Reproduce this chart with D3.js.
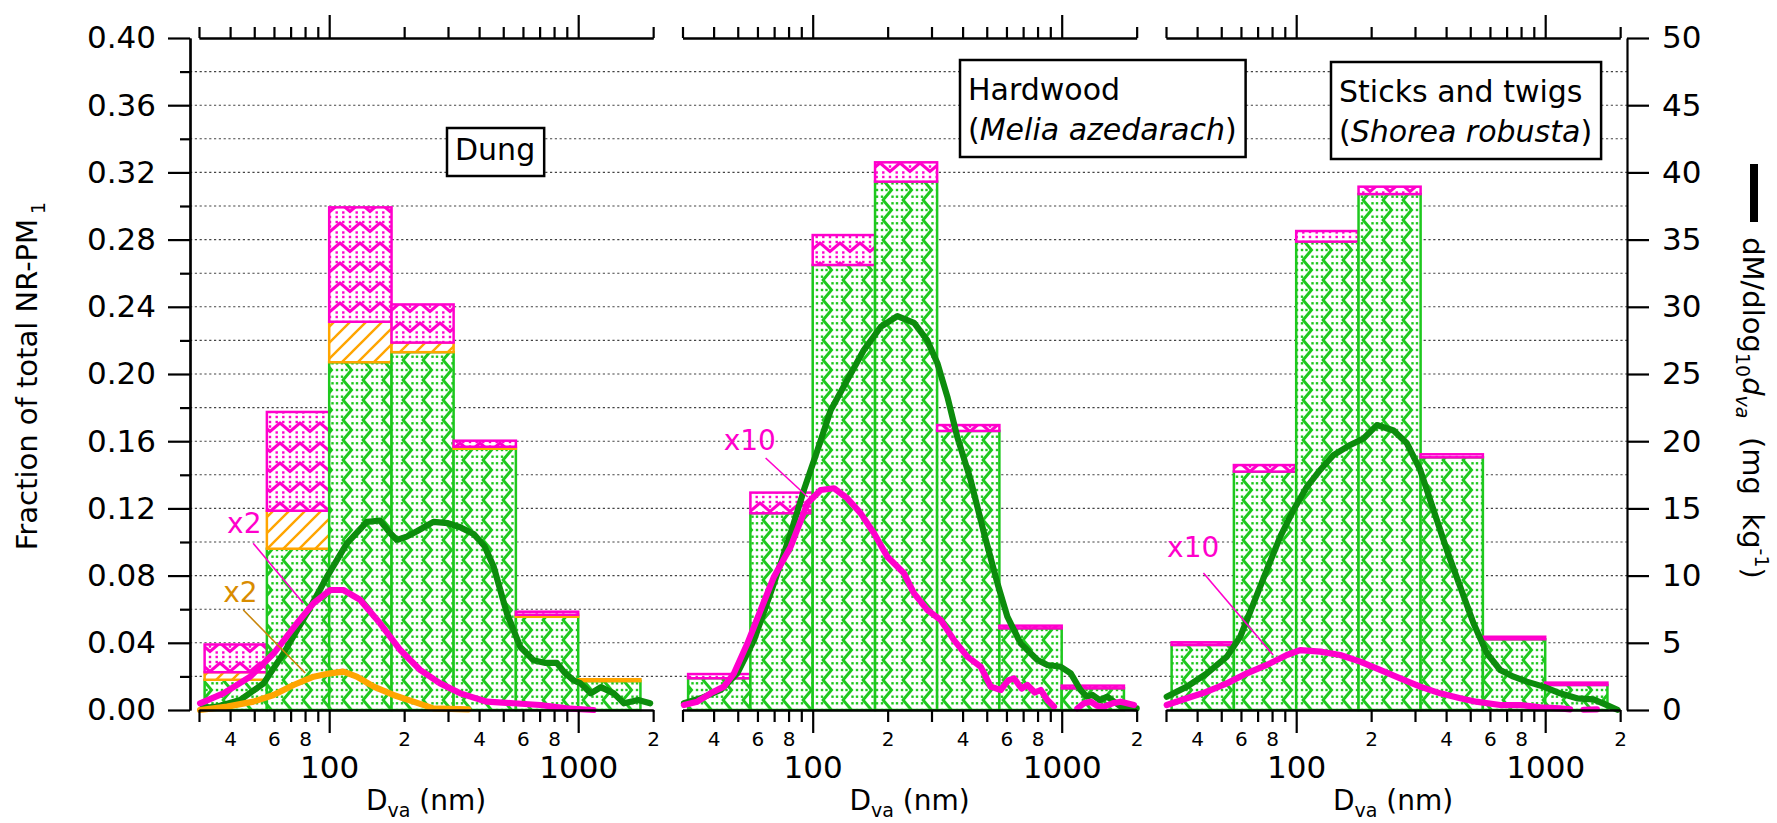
<!DOCTYPE html>
<html><head><meta charset="utf-8">
<script src="https://cdn.jsdelivr.net/npm/d3@7"></script>
<style>
body{margin:0;background:#fff;}
svg text{font-family:"DejaVu Sans",sans-serif;white-space:pre;}
</style></head><body>
<svg id="c" width="1777" height="823"></svg>
<script>
// ---------------- DATA ----------------
const panelNames = ["Dung", "Hardwood", "Sticks and twigs"];
const binEdges = [31.6, 56.2, 100, 178, 316, 562, 1000, 1778]; // nm
// stacked fractions of total NR-PM1 (green = organics, orange = ammonium, magenta = chloride)
const dungOrg  = [0.018, 0.096, 0.207, 0.213, 0.1555, 0.0555, 0.0172];
const dungNH4  = [0.0045, 0.0226, 0.0241, 0.0057, 0.0012, 0.0012, 0.0011];
const dungChl  = [0.0165, 0.0588, 0.0681, 0.0227, 0.0036, 0.0018, 0.0];
const hardOrg  = [0.0189, 0.1171, 0.2649, 0.3145, 0.1661, 0.0486, 0.0129];
const hardNH4  = [0, 0, 0, 0, 0, 0, 0];
const hardChl  = [0.0025, 0.0123, 0.0178, 0.0115, 0.0035, 0.0016, 0.0016];
const stickOrg = [0.0387, 0.1419, 0.2788, 0.3071, 0.1504, 0.0421, 0.0149];
const stickNH4 = [0, 0, 0, 0, 0, 0, 0];
const stickChl = [0.0016, 0.0039, 0.0063, 0.0044, 0.0018, 0.0015, 0.0014];

// dM/dlog10 dva curves, [Dva nm, mg/kg]
const dungTotal = [[31,0.15],[35.4,0.25],[43.9,0.74],[54.5,1.98],[65.5,4.2],[81.4,7.2],[97.9,9.9],[117.8,12.4],[141.7,14.0],[160,14.1],[175,13.2],[187,12.65],[205,12.9],[225,13.3],[262,14.0],[300,13.9],[336,13.6],[380,13.1],[420,12.2],[457,10.7],[517,7.2],[585,4.7],[661,3.7],[740,3.5],[821,3.5],[880,2.8],[958,2.2],[1019,2.0],[1123,1.24],[1234,1.7],[1390,1.24],[1526,0.5],[1741,0.74],[1945,0.5]];
const dungChlX2 = [[30.3,0.5],[37.6,1.24],[48.2,2.48],[59.8,4.2],[74.2,6.45],[86.5,7.94],[101,8.93],[114,8.93],[133,8.2],[160,6.45],[193,4.46],[232,2.98],[279,1.98],[336,1.24],[430,0.62],[550,0.5],[703,0.37],[900,0.12],[1152,0]];
const dungNH4X2 = [[30.3,0],[38.9,0.25],[49.6,0.62],[59.8,1.12],[71.9,1.86],[86.5,2.48],[101,2.73],[114,2.85],[129,2.48],[151,1.74],[181,1.12],[218,0.62],[262,0.12],[362,0.05]];
const hardTotal = [[30.4,0.5],[35.5,0.87],[42.7,1.49],[49.8,2.73],[58.1,5.2],[69.9,9.43],[81.6,13.15],[92.3,16.4],[104.4,19.3],[118.1,22.3],[137.7,24.55],[160.7,26.8],[187.5,28.5],[218.8,29.3],[255.3,28.8],[288.7,27.5],[316.8,25.8],[347.5,23.3],[381,20.3],[431,17.1],[487.6,13.15],[552,9.43],[605,6.94],[684,4.96],[799,3.72],[876,3.35],[991,3.22],[1087,2.73],[1190,1.49],[1260,1.0],[1330,1.12],[1420,0.74],[1526,0.99],[1726,0.25],[2000,0.12]];
const hardChlX10 = [[30.4,0.37],[34.4,0.62],[38.9,1.24],[44.0,1.74],[48.3,2.73],[54.7,4.96],[61.8,7.44],[69.9,9.92],[81.6,12.15],[95.2,15.38],[107.7,16.37],[121.8,16.5],[137.7,15.75],[155.9,14.63],[176.3,13.15],[199.5,11.4],[232.6,10.17],[255.3,8.68],[288.7,7.44],[326.6,6.7],[369.4,5.2],[417.9,3.97],[472.8,3.22],[518.7,1.74],[568.9,1.49],[610,2.2],[643.6,2.36],[690,1.6],[728,1.86],[780,1.3],[823.5,1.49],[876,0.74],[931,0.25],null,[1156,0.12],[1230,0.5],[1308,0.62],[1390,0.3],[1479,0.25],[1600,0.5],[1726,0.62],[1951,0.37]];
const stickTotal = [[30.2,0.99],[36.4,1.74],[43.8,2.73],[52.7,3.97],[59.6,5.45],[67.4,7.94],[76.2,10.42],[86.3,12.9],[97.5,14.88],[110.4,16.6],[124.8,17.86],[141.2,18.97],[164.8,19.72],[186.4,20.2],[210.9,21.2],[246,20.8],[278.4,19.84],[314.8,17.86],[356,14.88],[402.7,11.9],[455.7,9.17],[515.3,6.45],[583,4.22],[659.4,2.98],[746,2.48],[844,2.11],[984,1.74],[1148,1.24],[1340,0.87],[1563,0.79],[1770,0.37],[1950,0.02]];
const stickChlX10 = [[30.2,0.37],[36.4,0.87],[43.8,1.36],[52.7,1.98],[63.4,2.73],[76.2,3.35],[91.7,4.09],[103.8,4.46],[124.8,4.34],[150.2,4.09],[180.7,3.6],[217.4,2.98],[261.6,2.36],[314.8,1.74],[378.6,1.24],[455.7,0.87],[528.2,0.62],[659.4,0.37],[793.6,0.37],[955,0.2],[1148,0.12],[1259,0.05],null,[1425,0.02],[1613,0.05]];

// annotations: label position and pointer, in [nm, mg/kg]
const annotations = [
  {panel:0, text:"x2", color:"#ff00cc", lineColor:"#ff00cc", at:[38.9,13.2], from:[49.5,12.4], to:[78.6,7.96]},
  {panel:0, text:"x2", color:"#d98c00", lineColor:"#c8860a", at:[37.5,8.04], from:[45.2,7.44], to:[80.1,2.75]},
  {panel:1, text:"x10", color:"#ff00cc", lineColor:"#ff00cc", at:[43.9,19.35], from:[64.7,18.75], to:[95.5,15.85]},
  {panel:2, text:"x10", color:"#ff00cc", lineColor:"#ff00cc", at:[30.3,11.38], from:[42.4,10.19], to:[80.8,4.09]}
];

// axis ticks
const yLeftMajor = [0,0.04,0.08,0.12,0.16,0.20,0.24,0.28,0.32,0.36,0.40];
const yLeftMinor = [0.02,0.06,0.10,0.14,0.18,0.22,0.26,0.30,0.34,0.38];
const yRightMajor = [0,5,10,15,20,25,30,35,40,45,50];
const xMajor = [100, 1000];
const xMinor = [30,40,50,60,70,80,90,200,300,400,500,600,700,800,900,2000];
const xMinorLabels = {40:"4",60:"6",80:"8",200:"2",400:"4",600:"6",800:"8",2000:"2"};

// ---------------- LAYOUT ----------------
const GREEN="#1ec81e", DKGREEN="#0c8c0c", MAG="#ff00cc", ORG="#ffa500";
const yTop=38, yBot=710, axisLX=190, axisRX=1627;
const panelLeft0=199, panelStep=483.5, decadePx=249;
const svg=d3.select("#c");
const yL=d3.scaleLinear().domain([0,0.4]).range([yBot,yTop]);
const yR=d3.scaleLinear().domain([0,50]).range([yBot,yTop]);
const xScales=panelNames.map((p,i)=>{
  const x0=panelLeft0+i*panelStep;
  return d3.scaleLog().domain([30,2000]).range([x0, x0+decadePx*Math.log10(2000/30)]);
});
const panelBars=[[dungOrg,dungNH4,dungChl],[hardOrg,hardNH4,hardChl],[stickOrg,stickNH4,stickChl]];
const panelCurves=[
  [{d:dungTotal,c:DKGREEN},{d:dungNH4X2,c:ORG},{d:dungChlX2,c:MAG}],
  [{d:hardTotal,c:DKGREEN},{d:hardChlX10,c:MAG}],
  [{d:stickTotal,c:DKGREEN},{d:stickChlX10,c:MAG}]
];

// patterns
const defs=svg.append("defs");
function pat(id,w,h){const p=defs.append("pattern").attr("id",id).attr("patternUnits","userSpaceOnUse").attr("width",w).attr("height",h);p.append("rect").attr("width",w).attr("height",h).attr("fill","#fff");return p;}
const pG=pat("pG",20,20);
pG.append("polyline").attr("points","2.5,-0.6 11.5,10 2.5,20.6").attr("fill","none").attr("stroke",GREEN).attr("stroke-width",3);
[[2,3.3],[12.5,3.3],[17,3.3],[2,10],[6.5,10],[17,10],[2,16.7],[12.5,16.7],[17,16.7]].forEach(([x,y])=>pG.append("rect").attr("x",x-1.2).attr("y",y-1.2).attr("width",2.4).attr("height",2.4).attr("fill",GREEN));
const pM=pat("pM",20,20);
pM.append("polyline").attr("points","-0.6,2.5 10,11.5 20.6,2.5").attr("fill","none").attr("stroke",MAG).attr("stroke-width",3);
[[3.3,2],[3.3,12.5],[3.3,17],[10,2],[10,6.5],[10,17],[16.7,2],[16.7,12.5],[16.7,17]].forEach(([x,y])=>pM.append("rect").attr("x",x-1.2).attr("y",y-1.2).attr("width",2.4).attr("height",2.4).attr("fill",MAG));
const pO=pat("pO",16,16);
pO.append("path").attr("d","M-2,18 L18,-2 M-2,2 L2,-2 M14,18 L18,14").attr("stroke",ORG).attr("stroke-width",2.4);

// gridlines
const gGrid=svg.append("g");
yLeftMajor.concat(yLeftMinor).filter(v=>v>0.001&&v<0.399).forEach(v=>{
  gGrid.append("line").attr("x1",axisLX).attr("x2",axisRX).attr("y1",yL(v)).attr("y2",yL(v))
    .attr("stroke","#444").attr("stroke-width",1.1).attr("stroke-dasharray","2.2,2.6");
});

// bars
const fills=["url(#pG)","url(#pO)","url(#pM)"], strokes=[GREEN,ORG,MAG];
panelBars.forEach((series,i)=>{
  const xs=xScales[i]; const g=svg.append("g");
  for(let j=0;j<binEdges.length-1;j++){
    let cum=0;
    series.forEach((arr,k)=>{
      const v=arr[j];
      if(v>0){
        g.append("rect").attr("x",xs(binEdges[j])).attr("width",xs(binEdges[j+1])-xs(binEdges[j]))
          .attr("y",yL(cum+v)).attr("height",yL(cum)-yL(cum+v))
          .attr("fill",fills[k]).attr("stroke",strokes[k]).attr("stroke-width",2.5);
      }
      cum+=v;
    });
  }
});

// curves
panelCurves.forEach((cs,i)=>{
  const xs=xScales[i];
  const line=d3.line().defined(d=>d!=null).x(d=>xs(d[0])).y(d=>yR(d[1]));
  cs.forEach(c=>{
    svg.append("path").attr("d",line(c.d)).attr("fill","none").attr("stroke",c.c)
      .attr("stroke-width",6.2).attr("stroke-linejoin","round").attr("stroke-linecap","round");
  });
});

// annotations
annotations.forEach(a=>{
  const xs=xScales[a.panel];
  svg.append("line").attr("x1",xs(a.from[0])).attr("y1",yR(a.from[1])).attr("x2",xs(a.to[0])).attr("y2",yR(a.to[1]))
    .attr("stroke",a.lineColor).attr("stroke-width",1.6);
  svg.append("text").attr("x",xs(a.at[0])).attr("y",yR(a.at[1])).attr("fill",a.color).attr("font-size",28).text(a.text);
});

// panel label boxes
const boxes=[
  {panel:0, dx:256, base:160, padTop:32, padBot:16, lines:[[{t:"Dung"}]]},
  {panel:1, dx:285.5, base:100, padTop:40, padBot:17, lines:[[{t:"Hardwood"}],[{t:"("},{t:"Melia azedarach",i:true},{t:")"}]]},
  {panel:2, dx:173, base:102, padTop:40, padBot:17, lines:[[{t:"Sticks and twigs"}],[{t:"("},{t:"Shorea robusta",i:true},{t:")"}]]}
];
boxes.forEach(b=>{
  const x0=xScales[b.panel].range()[0]+b.dx;
  const g=svg.append("g");
  const rect=g.append("rect");
  let maxW=0;
  b.lines.forEach((ln,li)=>{
    const t=g.append("text").attr("x",x0).attr("y",b.base+li*40).attr("font-size",30);
    ln.forEach(s=>{const ts=t.append("tspan").text(s.t); if(s.i) ts.attr("font-style","italic");});
    maxW=Math.max(maxW,t.node().getComputedTextLength());
  });
  const top=b.base-b.padTop, bottom=b.base+(b.lines.length-1)*40+b.padBot;
  rect.attr("x",x0-8).attr("y",top).attr("width",maxW+17).attr("height",bottom-top)
    .attr("fill","#fff").attr("stroke","#000").attr("stroke-width",2.5);
});

// axes
function styleAxis(g){g.selectAll("path,line").attr("stroke","#000").attr("stroke-width",2.2);g.selectAll("text").attr("fill","#000").style("font-family","DejaVu Sans");}
// left
svg.append("g").attr("transform",`translate(${axisLX},0)`).call(d3.axisLeft(yL).tickValues(yLeftMinor).tickSize(10).tickSizeOuter(0).tickFormat(""))
  .call(styleAxis);
svg.append("g").attr("transform",`translate(${axisLX},0)`).call(d3.axisLeft(yL).tickValues(yLeftMajor).tickSize(22).tickSizeOuter(0).tickPadding(12).tickFormat(d3.format(".2f")))
  .call(styleAxis).selectAll("text").attr("font-size",31);
// right
svg.append("g").attr("transform",`translate(${axisRX},0)`).call(d3.axisRight(yR).tickValues(yRightMajor).tickSize(22).tickSizeOuter(0).tickPadding(13))
  .call(styleAxis).selectAll("text").attr("font-size",31);
// bottom / top per panel
xScales.forEach((xs,i)=>{
  svg.append("g").attr("transform",`translate(0,${yBot})`).call(d3.axisBottom(xs).tickValues(xMinor).tickSize(12).tickSizeOuter(0).tickPadding(10).tickFormat(d=>xMinorLabels[d]||""))
    .call(styleAxis).selectAll("text").attr("font-size",20);
  svg.append("g").attr("transform",`translate(0,${yBot})`).call(d3.axisBottom(xs).tickValues(xMajor).tickSize(23).tickSizeOuter(0).tickPadding(23).tickFormat(d3.format("d")))
    .call(styleAxis).selectAll("text").attr("font-size",31);
  svg.append("g").attr("transform",`translate(0,${yTop})`).call(d3.axisTop(xs).tickValues(xMinor).tickSize(11).tickSizeOuter(0).tickFormat(""))
    .call(styleAxis);
  svg.append("g").attr("transform",`translate(0,${yTop})`).call(d3.axisTop(xs).tickValues(xMajor).tickSize(23).tickSizeOuter(0).tickFormat(""))
    .call(styleAxis);
  // x title
  const cx=(xs.range()[0]+xs.range()[1])/2;
  const t=svg.append("text").attr("x",cx).attr("y",810).attr("text-anchor","middle").attr("font-size",28);
  t.append("tspan").text("D");
  t.append("tspan").attr("font-size",19).attr("dy",7).text("va");
  t.append("tspan").attr("dy",-7).text(" (nm)");
});

// left title
const lt=svg.append("text").attr("transform","translate(37,376) rotate(-90)").attr("text-anchor","middle").attr("font-size",29);
lt.append("tspan").text("Fraction of total NR-PM");
lt.append("tspan").attr("font-size",19).attr("dx",5).attr("dy",8).text("1");

// right title
svg.append("line").attr("x1",1754).attr("x2",1754).attr("y1",164).attr("y2",222).attr("stroke","#000").attr("stroke-width",8);
const rt=svg.append("text").attr("transform","translate(1743,408) rotate(90)").attr("text-anchor","middle").attr("font-size",29);
rt.append("tspan").text("dM/dlog");
rt.append("tspan").attr("font-size",19).attr("dy",7).text("10");
rt.append("tspan").attr("dy",-7).attr("font-style","italic").text("d");
rt.append("tspan").attr("font-size",19).attr("dy",7).attr("font-style","italic").text("va");
rt.append("tspan").attr("dy",-7).text("  (mg  kg");
rt.append("tspan").attr("font-size",19).attr("dy",-12).text("-1");
rt.append("tspan").attr("dy",12).text(")");
</script>
</body></html>
